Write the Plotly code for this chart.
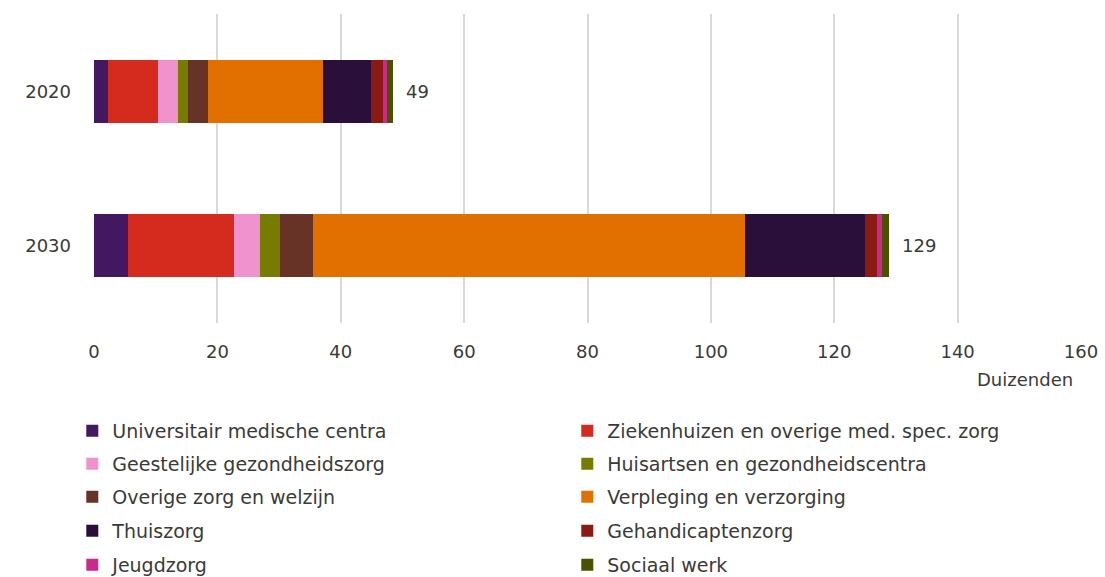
import plotly.graph_objects as go

years = ["2020", "2030"]
series_names = [
    "Universitair medische centra",
    "Ziekenhuizen en overige med. spec. zorg",
    "Geestelijke gezondheidszorg",
    "Huisartsen en gezondheidscentra",
    "Overige zorg en welzijn",
    "Verpleging en verzorging",
    "Thuiszorg",
    "Gehandicaptenzorg",
    "Jeugdzorg",
    "Sociaal werk",
]
values_2020 = [2.3, 8.0, 3.3, 1.6, 3.3, 18.7, 7.7, 2.0, 0.6, 1.0]
values_2030 = [5.5, 17.2, 4.2, 3.2, 5.4, 70.0, 19.5, 2.0, 0.7, 1.2]
total_labels = ["49", "129"]
colors = ["#431860", "#d52b1e", "#f092cd", "#777c00", "#673327",
          "#e17000", "#2a0f3b", "#8b1a14", "#ca2a8c", "#4a5200"]

FONT = "DejaVu Sans"
TXT = "#3a3a3a"

fig = go.Figure()
for i, name in enumerate(series_names):
    fig.add_trace(go.Bar(
        y=years, x=[values_2020[i], values_2030[i]], name=name,
        orientation="h", marker=dict(color=colors[i], line=dict(width=0)),
        legend="legend" if i // 2 == 0 else f"legend{i // 2 + 1}",
        hoverinfo="x+name",
    ))

totals = [sum(values_2020), sum(values_2030)]
for idx, (tot, lab) in enumerate(zip(totals, total_labels)):
    fig.add_annotation(x=tot, y=idx, xref="x", yref="y", text=lab,
                       showarrow=False, xanchor="left", yanchor="middle",
                       xshift=11, font=dict(family=FONT, size=18, color=TXT))

row_px = [431, 464, 497, 531, 565]
plot_top, plot_bot = 14, 323
H = plot_bot - plot_top
fig.add_annotation(xref="paper", yref="paper", x=1, y=(plot_bot - 379) / H,
                   text="Duizenden", showarrow=False, xanchor="right",
                   yanchor="middle", xshift=-6,
                   font=dict(family=FONT, size=18, color=TXT))

legend_common = dict(orientation="h", xanchor="left", yanchor="middle",
                     entrywidth=450, entrywidthmode="pixels",
                     font=dict(family=FONT, size=19, color=TXT),
                     bgcolor="rgba(0,0,0,0)", traceorder="normal")
layout_legends = {}
for r, py in enumerate(row_px):
    key = "legend" if r == 0 else f"legend{r + 1}"
    layout_legends[key] = dict(legend_common, x=-0.022, y=(plot_bot - py) / H)

fig.update_layout(
    width=1105, height=577,
    margin=dict(l=94, r=24, t=14, b=254, autoexpand=False),
    paper_bgcolor="white", plot_bgcolor="white",
    barmode="stack", bargap=0.595,
    font=dict(family=FONT, size=18, color=TXT),
    xaxis=dict(range=[0, 160], dtick=20, showgrid=True, gridcolor="#d9d9d9",
               gridwidth=2, zeroline=False, showline=False, ticks="",
               automargin=False, ticklabelstandoff=16,
               tickfont=dict(family=FONT, size=18, color=TXT)),
    yaxis=dict(type="category", categoryorder="array", categoryarray=years,
               range=[1.5, -0.5], autorange=False, showgrid=False,
               zeroline=False, showline=False, ticks="", automargin=False,
               ticklabelstandoff=22,
               tickfont=dict(family=FONT, size=18, color=TXT)),
    **layout_legends,
)

fig.write_html("out.html", config={"displayModeBar": False},
               post_script="document.body.style.margin='0';")
